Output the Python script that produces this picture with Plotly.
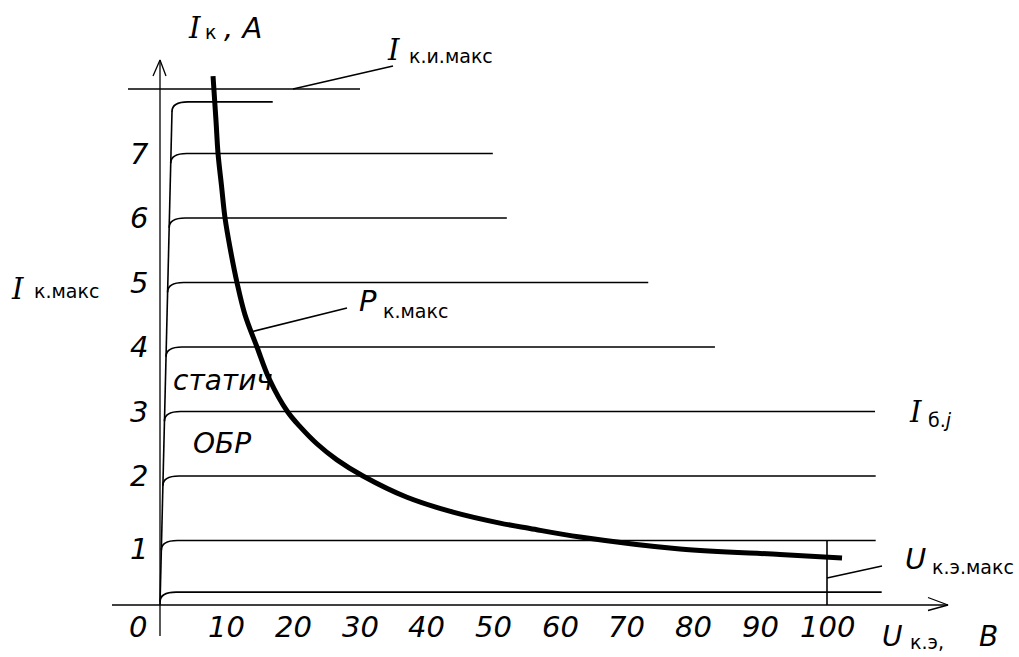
import plotly.graph_objects as go

# ---------------- data ----------------
x_tick_vals = [10, 20, 30, 40, 50, 60, 70, 80, 90, 100]
x_tick_labels = ["10", "20", "30", "40", "50", "60", "70", "80", "90", "100"]
y_tick_vals = [1, 2, 3, 4, 5, 6, 7]
y_tick_labels = ["1", "2", "3", "4", "5", "6", "7"]

# output characteristics: plateau current (A) and end voltage (V)
ib_levels = [0.2, 1.0, 2.0, 3.0, 4.0, 5.0, 6.0, 7.0, 7.8]
ib_end_u = [108.2, 107.3, 107.3, 107.2, 83.2, 73.2, 52.0, 49.9, 16.9]

# maximum dissipated power curve P_k.max
pk_u = [7.95, 8.40, 8.70, 9.22, 9.75, 10.57, 11.54, 12.74, 14.54, 16.40, 19.10,
        21.13, 23.52, 26.53, 30.43, 37.03, 43.93, 50.97, 55.47, 62.97, 77.96, 92.95, 102.25]
pk_i = [8.20, 7.50, 7.00, 6.50, 6.00, 5.50, 5.00, 4.50, 4.00, 3.50, 3.00,
        2.75, 2.50, 2.25, 2.00, 1.67, 1.44, 1.27, 1.186, 1.054, 0.868, 0.783, 0.729]

i_ki_max = 8.0          # I_k.i.max level
u_ke_max = 100          # U_ke.max
sat_u, sat_i = 1.8, 7.66  # top of saturation line

# ---------------- geometry ----------------
W, H = 1019, 657
X0PX, XSC = 160.0, 6.67   # pixel of U=0, pixels per volt
Y0PX, YSC = 605.0, 64.5   # pixel of I=0, pixels per ampere


def ux(px):
    return (px - X0PX) / XSC


def iy(py):
    return (Y0PX - py) / YSC


def pxp(px):
    return px / W


def pyp(py):
    return 1 - py / H


FONT = "DejaVu Sans"
fig = go.Figure()


def seg(xs, ys, w=1.6):
    fig.add_trace(go.Scatter(x=xs, y=ys, mode="lines", hoverinfo="skip",
                             line=dict(color="black", width=w)))


# axes
seg([ux(112), ux(948)], [0, 0], 1.3)
seg([ux(928), ux(948), ux(928)], [iy(597.5), 0, iy(610.5)], 1.3)
seg([0, 0], [iy(636), iy(60)], 1.3)
seg([ux(153), 0, ux(166)], [iy(76), iy(60), iy(76)], 1.3)

# saturation line
seg([0, sat_u], [0, sat_i], 1.6)

# characteristics with knees
shapes = []
kw, kh = 2.4, 0.15
for lev, end in zip(ib_levels, ib_end_u):
    xs = sat_u * (lev - kh) / sat_i
    path = f"M {xs},{lev - kh} Q {xs},{lev} {xs + kw},{lev} L {end},{lev}"
    shapes.append(dict(type="path", path=path, xref="x", yref="y",
                       line=dict(color="black", width=1.7)))

# I_k.i.max line and leader
seg([ux(128), ux(360)], [i_ki_max, i_ki_max], 1.6)
seg([ux(293), ux(393)], [i_ki_max, iy(66)], 1.6)

# U_ke.max marker and leader
seg([u_ke_max, u_ke_max], [0, 1.0], 1.6)
seg([u_ke_max, ux(882)], [iy(578), iy(566)], 1.6)

# P_k.max curve and leader
fig.add_trace(go.Scatter(x=pk_u, y=pk_i, mode="lines", hoverinfo="skip",
                         line=dict(color="black", width=5, shape="spline", smoothing=1.0)))
seg([13.5, ux(347)], [4.23, iy(308)], 1.6)

ann = []
# tick labels
for v, t in zip(x_tick_vals, x_tick_labels):
    ann.append(dict(x=v, y=iy(627), xref="x", yref="y", text=f"<i>{t}</i>",
                    showarrow=False, font=dict(family=FONT, size=29, color="black"),
                    xanchor="center", yanchor="middle"))
ann.append(dict(x=ux(138), y=iy(627), xref="x", yref="y", text="<i>0</i>",
                showarrow=False, font=dict(family=FONT, size=29, color="black"),
                xanchor="center", yanchor="middle"))
for v, t in zip(y_tick_vals, y_tick_labels):
    off = -0.13 if v == 1 else 0.0
    ann.append(dict(x=ux(139), y=v + off, xref="x", yref="y", text=f"<i>{t}</i>",
                    showarrow=False, font=dict(family=FONT, size=29, color="black"),
                    xanchor="center", yanchor="middle"))


def label(main, sub, mx, my, sx, sy, msize=29, ssize=19):
    ann.append(dict(x=pxp(mx), y=pyp(my), xref="paper", yref="paper",
                    text=f"<i>{main}</i>", showarrow=False,
                    font=dict(family="DejaVu Serif" if main == "I" else FONT, size=msize, color="black"),
                    xanchor="center", yanchor="middle"))
    ann.append(dict(x=pxp(sx), y=pyp(sy), xref="paper", yref="paper",
                    text=sub, showarrow=False,
                    font=dict(family=FONT, size=ssize, color="black"),
                    xanchor="left", yanchor="middle"))


label("I", "к", 194, 28, 203, 32)
ann.append(dict(x=pxp(222), y=pyp(28), xref="paper", yref="paper", text="<i>, A</i>",
                showarrow=False, font=dict(family=FONT, size=29, color="black"),
                xanchor="left", yanchor="middle"))
label("I", "к.и.макс", 393, 50, 407, 56)
label("I", "к.макс", 17, 289, 32, 291)
label("P", "к.макс", 368, 301, 381, 311)
label("I", "б.<i>j</i>", 915, 412, 926, 420)
label("U", "к.э.макс", 915, 559, 930, 567)
label("U", "к.э,", 892, 636, 908, 642, msize=28)
ann.append(dict(x=pxp(988), y=pyp(636), xref="paper", yref="paper", text="<i>B</i>",
                showarrow=False, font=dict(family=FONT, size=28, color="black"),
                xanchor="center", yanchor="middle"))
ann.append(dict(x=pxp(171), y=pyp(380), xref="paper", yref="paper", text="<i>статич</i>",
                showarrow=False, font=dict(family=FONT, size=28, color="black"),
                xanchor="left", yanchor="middle"))
ann.append(dict(x=pxp(191), y=pyp(443), xref="paper", yref="paper", text="<i>ОБР</i>",
                showarrow=False, font=dict(family=FONT, size=28, color="black"),
                xanchor="left", yanchor="middle"))

fig.update_layout(
    width=W, height=H, margin=dict(l=0, r=0, t=0, b=0, pad=0),
    paper_bgcolor="white", plot_bgcolor="white", showlegend=False,
    xaxis=dict(visible=False, range=[ux(0), ux(W)], fixedrange=True),
    yaxis=dict(visible=False, range=[iy(H), iy(0)], fixedrange=True),
    shapes=shapes, annotations=ann,
)

fig.write_html("out.html", config={"displayModeBar": False},
               post_script="document.body.style.margin='0';document.body.style.overflow='hidden';")
